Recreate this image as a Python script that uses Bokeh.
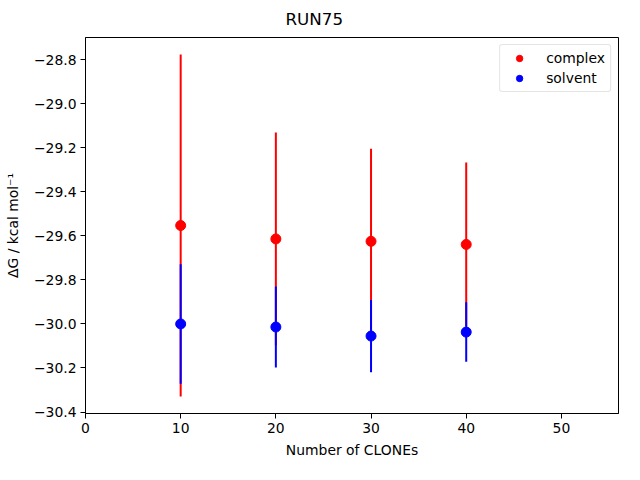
from bokeh.plotting import figure
from bokeh.models import ColumnDataSource, FixedTicker, CustomJSTickFormatter, Range1d
from bokeh.embed import file_html
from bokeh.resources import INLINE

# ---- data ----
title_text = "RUN75"
clones = [10, 20, 30, 40]
complex_dg = [-29.553, -29.614, -29.625, -29.639]
complex_err = [0.776, 0.483, 0.421, 0.372]
solvent_dg = [-30.000, -30.014, -30.055, -30.037]
solvent_err = [0.271, 0.184, 0.164, 0.135]
x_ticks = [0, 10, 20, 30, 40, 50]
y_ticks = [-30.4, -30.2, -30.0, -29.8, -29.6, -29.4, -29.2, -29.0, -28.8]
x_label = "Number of CLONEs"
y_label = "ΔG / kcal mol⁻¹"

FONT = "DejaVu Sans"
TICK_PX = "13.9px"

def make_source(x, y, e):
    return ColumnDataSource(dict(x=x, y=y,
                                 lo=[a - b for a, b in zip(y, e)],
                                 hi=[a + b for a, b in zip(y, e)]))

src_c = make_source(clones, complex_dg, complex_err)
src_s = make_source(clones, solvent_dg, solvent_err)

lo_all = min(src_c.data["lo"] + src_s.data["lo"])
hi_all = max(src_c.data["hi"] + src_s.data["hi"])
pad = 0.05 * (hi_all - lo_all)

p = figure(width=624, height=464, output_backend="svg", toolbar_location=None,
           x_range=Range1d(0, 56), y_range=Range1d(lo_all - pad, hi_all + pad),
           min_border_left=85, min_border_right=6, min_border_top=37, min_border_bottom=51)
p.background_fill_color = "white"
p.border_fill_color = "white"
p.outline_line_color = "black"
p.outline_line_width = 1
p.xgrid.visible = False
p.ygrid.visible = False

p.title.text = title_text
p.title.text_font = FONT
p.title.text_font_size = "16.7px"
p.title.text_font_style = "normal"
p.title.text_color = "black"
p.title.align = "left"
p.title.offset = 200
p.title.vertical_align = "top"
p.title.standoff = 14

p.segment(x0="x", y0="lo", x1="x", y1="hi", source=src_c, line_color="red", line_width=2)
p.scatter(x="x", y="y", source=src_c, size=10, color="red", legend_label="complex")
p.segment(x0="x", y0="lo", x1="x", y1="hi", source=src_s, line_color="blue", line_width=2)
p.scatter(x="x", y="y", source=src_s, size=10, color="blue", legend_label="solvent")

for ax, ticks, dig, lab in ((p.xaxis[0], x_ticks, 0, x_label), (p.yaxis[0], y_ticks, 1, y_label)):
    ax.ticker = FixedTicker(ticks=ticks)
    ax.formatter = CustomJSTickFormatter(code="""
var s = (Math.abs(tick) < 1e-9 ? 0 : tick).toFixed(%d);
return s.replace('-', '\\u2212');
""" % dig)
    ax.axis_label = lab
    ax.axis_label_text_font = FONT
    ax.axis_label_text_font_size = TICK_PX
    ax.axis_label_text_font_style = "normal"
    ax.axis_label_text_color = "black"
    ax.major_label_text_font = FONT
    ax.major_label_text_font_size = TICK_PX
    ax.major_label_text_color = "black"
    ax.axis_line_color = "black"
    ax.major_tick_line_color = "black"
    ax.major_tick_out = 5
    ax.major_tick_in = 0
    ax.minor_tick_line_color = None
    ax.major_label_standoff = 4

p.yaxis[0].axis_label_standoff = 10
p.xaxis[0].axis_label_standoff = 6

lg = p.legend[0]
lg.location = "top_right"
lg.margin = 7
lg.padding = 5
lg.spacing = 4
lg.glyph_width = 28
lg.glyph_height = 16
lg.label_height = 16
lg.label_standoff = 13
lg.label_text_font = FONT
lg.label_text_font_size = TICK_PX
lg.label_text_color = "black"
lg.border_line_color = "#cccccc"
lg.border_line_width = 1
lg.background_fill_alpha = 0.8
lg.border_radius = 3

open("out.html", "w").write(file_html(p, INLINE))
